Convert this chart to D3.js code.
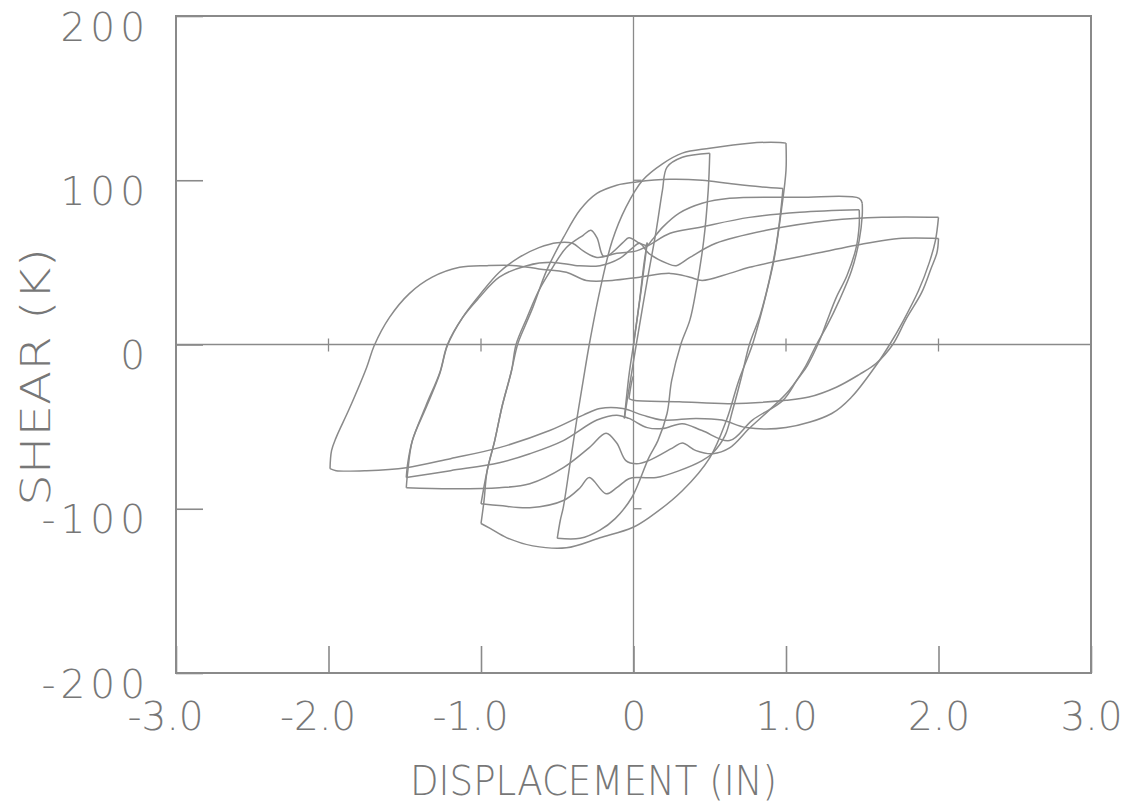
<!DOCTYPE html>
<html>
<head>
<meta charset="utf-8">
<script src="https://cdn.jsdelivr.net/npm/d3@7"></script>
<style>
    body { margin: 0; background: #fff; }
</style>
</head>
<body>
<div id="wrapper"></div>
<script>
const spikeUp = [[0,0],[0.05,33],[0.09,62]];
const spikeDown = [[0.09,62],[0.07,50],[0.04,27],[0,0],[-0.03,-19],[-0.06,-45]];
const reload00 = [[-0.06,-45],[-0.04,-33],[-0.01,-16],[0.02,1],[0.09,39],[0.15,70],[0.19,94],[0.22,108],[0.32,114],[0.50,116.5]];
const unload05 = [[0.50,116.5],[0.49,94],[0.46,63],[0.41,33],[0.37,15],[0.31,0],[0.25,-22],[0.22,-42],[0.16,-58.5],[0.10,-69],[-0.01,-93],[-0.12,-106],[-0.22,-113],[-0.35,-118],[-0.50,-118]];
const reload05 = [[-0.50,-118],[-0.48,-107],[-0.46,-99],[-0.42,-75],[-0.37,-44.5],[-0.33,-22],[-0.29,0],[-0.22,33],[-0.14,63],[-0.05,83.5],[0.06,100],[0.19,110],[0.32,116.5],[0.50,119.5],[0.76,122.6],[0.96,123],[1.00,122.6]];
const unload10a = [[1.00,122.6],[1.00,106],[0.97,82],[0.92,51],[0.86,27],[0.78,0],[0.69,-22],[0.61,-46],[0.50,-69],[0.32,-89],[0.10,-105.5],[-0.01,-111.6],[-0.22,-117.7],[-0.44,-123.8],[-0.66,-122.6],[-0.83,-117.7],[-0.94,-112],[-1.00,-109]];
const reload10a = [[-1.00,-109],[-0.98,-95],[-0.96,-77],[-0.91,-58.5],[-0.86,-37],[-0.80,-16],[-0.76,0],[-0.71,11.6],[-0.66,22.6],[-0.57,45],[-0.46,65],[-0.35,82],[-0.24,92],[-0.11,97],[0.02,99],[0.24,100.6],[0.45,100],[0.63,98],[0.83,96],[0.98,95]];
const unload10b = [[0.98,95],[0.97,85],[0.94,63],[0.89,39],[0.83,17.7],[0.76,0],[0.71,-19],[0.65,-40],[0.60,-55.5],[0.52,-66],[0.45,-70.7],[0.30,-76.8],[0.15,-81],[0.04,-81],[-0.03,-81.7],[-0.11,-87.2],[-0.18,-90.9],[-0.29,-81],[-0.35,-87.2],[-0.46,-95],[-0.68,-99.4],[-0.88,-98],[-1.00,-97]];
const reload10b = [[-1.00,-97],[-0.96,-77],[-0.91,-58.5],[-0.86,-37],[-0.80,-16],[-0.77,0],[-0.70,16],[-0.62,33],[-0.53,47],[-0.44,59],[-0.33,66.5],[-0.28,69.5],[-0.24,65],[-0.20,54],[-0.17,54],[-0.07,62],[-0.03,65],[0.04,61.6],[0.09,60.4],[0.12,63.4],[0.19,71.3],[0.30,80],[0.45,86],[0.63,89],[1.09,89.6],[1.48,89],[1.50,86]];
const unload15a = [[1.50,86],[1.50,78.7],[1.48,63.4],[1.43,45],[1.35,27],[1.27,11.6],[1.20,0],[1.12,-14.6],[1.02,-28],[0.89,-40],[0.76,-51],[0.63,-63],[0.52,-66.5],[0.41,-64.6],[0.32,-60],[0.26,-62.8],[0.10,-70.7],[0.02,-72.6],[-0.05,-70.7],[-0.11,-60],[-0.18,-54],[-0.29,-62.8],[-0.46,-75],[-0.68,-84.8],[-0.88,-87.2],[-1.20,-87.8],[-1.49,-87.2]];
const reload15a = [[-1.49,-87.2],[-1.48,-77],[-1.45,-58.5],[-1.36,-38.4],[-1.27,-17.7],[-1.22,-0.6],[-1.12,16.5],[-1.01,30],[-0.88,44],[-0.75,53],[-0.62,59],[-0.50,62],[-0.40,61.6],[-0.33,57],[-0.24,53],[-0.11,55.5],[0.02,57],[0.10,60.4],[0.24,67.7],[0.43,71.3],[0.76,77.4],[1.09,80.5],[1.48,82]];
const unload15b = [[1.48,82],[1.48,72.6],[1.46,59],[1.40,42],[1.33,28.7],[1.27,14.6],[1.22,2.4],[1.14,-12.8],[1.07,-22],[0.98,-34],[0.78,-46],[0.63,-58.5],[0.45,-52.4],[0.32,-48.2],[0.19,-51.2],[0.09,-50.6],[-0.03,-45],[-0.11,-43],[-0.24,-46],[-0.46,-58.5],[-0.68,-66.5],[-0.88,-72],[-1.20,-76.8],[-1.49,-81]];
const reload15b = [[-1.49,-81],[-1.48,-72],[-1.45,-58.5],[-1.36,-37],[-1.27,-17],[-1.22,0],[-1.12,16.5],[-1.01,28.7],[-0.88,41],[-0.70,48],[-0.53,50],[-0.37,48],[-0.22,48],[-0.09,52.4],[-0.01,58.5],[0.04,61.6],[0.10,55.5],[0.22,49.4],[0.28,48],[0.37,53],[0.54,61.6],[0.87,69.5],[1.30,75.6],[1.63,77.4],[2.00,77.4]];
const unload20a = [[2.00,77.4],[1.98,63.4],[1.94,50],[1.87,33],[1.77,14.6],[1.68,0],[1.59,-12.8],[1.43,-32],[1.30,-42],[1.00,-50.6],[0.74,-50.6],[0.58,-46],[0.41,-45],[0.19,-46],[0.06,-43],[-0.07,-39],[-0.22,-39],[-0.33,-43],[-0.55,-52.4],[-0.88,-62.8],[-1.20,-69.5],[-1.49,-75],[-1.75,-76.8],[-1.95,-76.8],[-1.99,-75.6]];
const reload20 = [[-1.99,-75.6],[-1.98,-64.6],[-1.95,-56.7],[-1.86,-38.4],[-1.75,-14],[-1.70,-0.6],[-1.60,16.5],[-1.47,31],[-1.32,41],[-1.14,47],[-0.96,48],[-0.77,48],[-0.62,46],[-0.44,44],[-0.31,39],[-0.14,39],[0.04,41],[0.24,43.3],[0.37,41],[0.45,39],[0.63,43.3],[0.76,47],[1.20,55.5],[1.53,61.6],[1.74,64.6],[2.00,64.6]];
const unload20b = [[2.00,64.6],[1.99,56],[1.95,46],[1.89,31.7],[1.79,15.9],[1.70,0],[1.59,-11.6],[1.48,-18.3],[1.33,-26],[1.15,-32],[1.00,-34],[0.63,-36],[0.30,-34.8],[0,-34],[-0.03,-33]];
const finalTail = [[-0.03,-33],[-0.01,-22],[0,-19]];

const branches = [spikeUp, spikeDown, reload00, unload05, reload05, unload10a, reload10a,
    unload10b, reload10b, unload15a, reload15a, unload15b, reload15b, unload20a, reload20,
    unload20b, finalTail];

const xTicks = [-3, -2, -1, 0, 1, 2, 3];
const xTickLabels = ["-3.0", "-2.0", "-1.0", "0", "1.0", "2.0", "3.0"];
const yTicks = [-200, -100, 0, 100, 200];
const yTickLabels = ["-200", "-100", "0", "100", "200"];
const zeroMarksX = [-2, -1, 1, 2];
const zeroMarksY = [-100, 100];

function buildPlot(id) {
    const xAccessor = (d) => d[0];
    const yAccessor = (d) => d[1];

    var dimension = {
        width: 1134,
        height: 806,
        margin: {
            top: 16,
            left: 176,
            bottom: 133,
            right: 43
        }
    };

    dimension.boundedWidth = dimension.width - dimension.margin.left - dimension.margin.right;
    dimension.boundedHeight = dimension.height - dimension.margin.top - dimension.margin.bottom;

    const ink = "#8a8a8a";
    const textInk = "#777";
    const font = "'DejaVu Sans', 'Liberation Sans', sans-serif";

    const wrapper = d3.select("#" + id);
    const svg = wrapper.append("svg")
    svg.attr("height", dimension.height);
    svg.attr("width", dimension.width);
    const bounded = svg.append("g");
    bounded.attr("transform", `translate(${dimension.margin.left}, ${dimension.margin.top})`);

    const xScaler = d3.scaleLinear()
        .domain([-3, 3])
        .range([0, dimension.boundedWidth]);

    const yScaler = d3.scaleLinear()
        .domain([-200, 200])
        .range([dimension.boundedHeight, 0]);

    // zero lines with their small marks
    bounded.append("line")
        .attr("x1", 0).attr("x2", dimension.boundedWidth)
        .attr("y1", yScaler(0)).attr("y2", yScaler(0))
        .attr("stroke", ink).attr("stroke-width", 1.3);

    bounded.append("line")
        .attr("x1", xScaler(0)).attr("x2", xScaler(0))
        .attr("y1", 0).attr("y2", dimension.boundedHeight)
        .attr("stroke", ink).attr("stroke-width", 1.3);

    bounded.selectAll(".zmx").data(zeroMarksX).join("line")
        .attr("x1", d => xScaler(d)).attr("x2", d => xScaler(d))
        .attr("y1", yScaler(0) - 6).attr("y2", yScaler(0) + 7)
        .attr("stroke", ink).attr("stroke-width", 1.3);

    bounded.selectAll(".zmy").data(zeroMarksY).join("line")
        .attr("x1", xScaler(0)).attr("x2", xScaler(0) + 8)
        .attr("y1", d => yScaler(d)).attr("y2", d => yScaler(d))
        .attr("stroke", ink).attr("stroke-width", 1.3);

    var lineGenerator = d3.line()
        .x(d => xScaler(xAccessor(d)))
        .y(d => yScaler(yAccessor(d)))
        .curve(d3.curveCatmullRom.alpha(0.5));

    bounded.selectAll(".branch").data(branches).join("path")
        .attr("class", "branch")
        .attr("d", d => lineGenerator(d))
        .attr("fill", "none")
        .attr("stroke", ink)
        .attr("stroke-width", 1.5)
        .attr("stroke-linejoin", "round");

    // frame
    bounded.append("rect")
        .attr("width", dimension.boundedWidth)
        .attr("height", dimension.boundedHeight)
        .attr("fill", "none")
        .attr("stroke", ink)
        .attr("stroke-width", 2);

    var xAxis = d3.axisBottom()
        .scale(xScaler)
        .tickValues(xTicks)
        .tickFormat((d, i) => xTickLabels[i])
        .tickSizeInner(-27)
        .tickSizeOuter(0)
        .tickPadding(29);

    var yAxis = d3.axisLeft()
        .scale(yScaler)
        .tickValues(yTicks)
        .tickFormat((d, i) => yTickLabels[i])
        .tickSizeInner(-27)
        .tickSizeOuter(0)
        .tickPadding(26);

    const xg = bounded.append("g")
        .attr("transform", "translate(0, " + dimension.boundedHeight + ")")
        .call(xAxis);

    const yg = bounded.append("g")
        .call(yAxis);

    [xg, yg].forEach(g => {
        g.select(".domain").remove();
        g.selectAll(".tick line").attr("stroke", ink).attr("stroke-width", 1.6);
        g.selectAll(".tick text")
            .attr("fill", textInk)
            .style("font-family", font)
            .style("font-weight", 200)
            .style("font-size", "39px");
    });

    xg.selectAll(".tick text").attr("dx", d => d < 0 ? "-0.28em" : 0).style("letter-spacing", "0px");
    yg.selectAll(".tick text").attr("dy", "0.62em").style("letter-spacing", "5px");

    bounded.append('text')
        .attr('x', dimension.boundedWidth / 2 - 40)
        .attr('y', 779)
        .attr('text-anchor', 'middle')
        .attr('textLength', 367)
        .attr('lengthAdjust', 'spacingAndGlyphs')
        .attr('fill', textInk)
        .style('font-family', font)
        .style('font-weight', 200)
        .style('font-size', '40px')
        .text('DISPLACEMENT (IN)');

    bounded.append('text')
        .attr('text-anchor', 'middle')
        .attr('x', 0)
        .attr('textLength', 258)
        .attr('lengthAdjust', 'spacingAndGlyphs')
        .attr('transform', 'translate(-126,' + (377 - dimension.margin.top) + ')rotate(-90)')
        .attr('fill', textInk)
        .style('font-family', font)
        .style('font-weight', 200)
        .style('font-size', '40px')
        .text('SHEAR (K)');
}

buildPlot("wrapper");
</script>
</body>
</html>
